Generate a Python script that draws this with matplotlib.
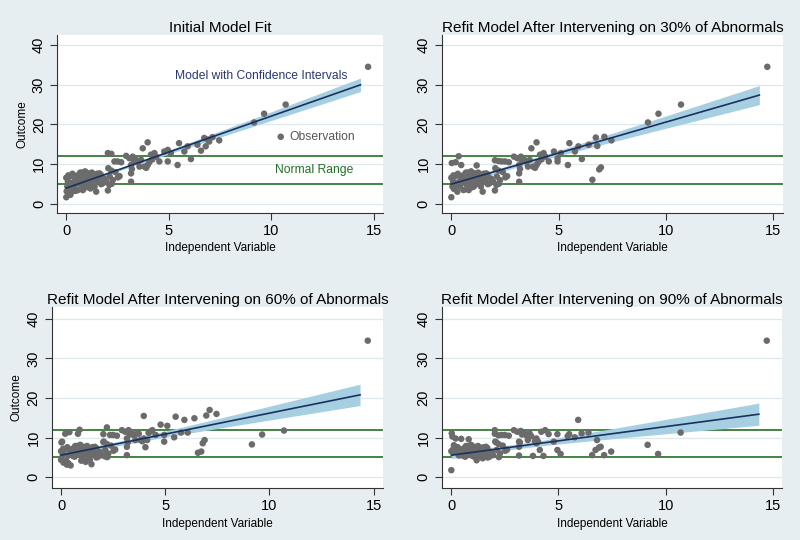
import numpy as np
import matplotlib
matplotlib.use("Agg")
import matplotlib.pyplot as plt

plt.rcParams['font.family'] = ['Liberation Sans', 'DejaVu Sans']

titles = ["Initial Model Fit",
          "Refit Model After Intervening on 30% of Abnormals",
          "Refit Model After Intervening on 60% of Abnormals",
          "Refit Model After Intervening on 90% of Abnormals"]

# ---- data (x shared by all panels; y per panel) ----
x_vals = [
    0.00, 0.02, 0.05, 0.08, 0.00, 0.12, 0.16, 0.20, 0.24, 0.28,
    0.34, 0.40, 0.46, 0.49, 0.52, 0.57, 0.62, 0.65, 0.70, 0.73,
    0.78, 0.81, 0.85, 0.89, 0.92, 0.97, 1.00, 1.05, 1.08, 1.12,
    1.18, 1.22, 1.28, 1.32, 1.38, 1.42, 1.46, 1.50, 1.55, 1.62,
    0.30, 0.60, 0.35, 1.15, 0.10, 0.42, 0.68, 0.75, 0.95, 1.02,
    1.25, 1.35, 0.55, 0.88, 1.60, 1.68,
    1.70, 1.78, 1.85, 1.95, 2.03, 2.05, 2.10, 2.12, 2.03, 2.20,
    2.20, 2.27, 2.22, 2.35, 2.40, 2.50, 2.52, 2.60, 2.68, 2.92,
    3.08, 3.16, 3.16, 3.16, 3.20, 3.24, 3.30, 3.40, 3.50, 3.57,
    3.65, 3.73, 3.81, 3.90, 3.97, 3.97, 4.05, 4.13, 4.20, 4.30,
    4.38, 4.54, 4.78, 4.95, 4.95, 5.10, 5.43, 5.50, 5.76, 5.92,
    6.08, 6.40, 6.57, 6.73, 6.80, 6.89, 6.97, 7.13, 7.46,
    9.16, 9.65, 10.70, 14.72]

y_initial = [
    1.7, 3.2, 4.4, 5.6, 6.6, 3.8, 6.9, 2.3, 4.9, 3.1,
    3.6, 4.4, 3.3, 6.0, 7.1, 3.5, 7.4, 5.2, 6.4, 4.8,
    7.9, 3.5, 6.6, 5.6, 8.2, 4.2, 7.0, 4.4, 7.7, 6.1,
    3.9, 6.9, 5.4, 7.3, 4.4, 6.5, 3.1, 7.6, 5.6, 7.7,
    7.6, 6.2, 5.5, 5.0, 7.2, 6.8, 7.9, 5.9, 6.3, 5.3,
    7.9, 6.0, 5.7, 7.4, 6.4, 7.4,
    5.0, 5.2, 6.4, 5.6, 3.4, 9.0, 4.8, 6.9, 12.8, 12.6,
    8.4, 6.0, 5.1, 10.7, 8.0, 10.7, 6.7, 7.0, 10.5, 12.1,
    11.5, 9.8, 7.7, 5.6, 8.8, 11.9, 10.8, 11.1, 10.6, 9.4,
    11.1, 14.0, 9.4, 9.1, 15.5, 9.8, 10.5, 12.4, 11.2, 12.8,
    11.9, 10.7, 13.2, 13.6, 10.7, 12.8, 9.8, 15.3, 13.2, 14.5,
    11.3, 14.9, 13.4, 16.6, 14.5, 16.2, 15.7, 16.8, 16.0,
    20.5, 22.7, 25.0, 34.5]

y_30 = [
    1.7, 10.3, 4.4, 5.6, 6.6, 3.8, 6.9, 10.5, 4.9, 3.1,
    12.0, 4.4, 9.8, 6.0, 7.1, 3.5, 7.4, 5.2, 6.4, 4.8,
    7.9, 3.5, 6.6, 5.6, 8.2, 4.2, 7.0, 4.4, 7.7, 6.1,
    9.7, 6.9, 5.4, 7.3, 4.4, 6.5, 3.1, 7.6, 5.6, 7.7,
    7.6, 6.2, 5.5, 5.0, 7.2, 6.8, 7.9, 5.9, 6.3, 5.3,
    7.9, 6.0, 5.7, 7.4, 6.4, 7.4,
    5.0, 5.2, 6.4, 5.6, 3.4, 9.0, 4.8, 6.9, 11.0, 10.8,
    8.4, 6.0, 5.1, 10.7, 8.0, 10.7, 6.7, 7.0, 10.5, 11.9,
    11.5, 9.8, 7.7, 5.6, 8.8, 11.9, 10.8, 11.1, 10.6, 9.4,
    11.1, 14.0, 9.4, 9.1, 15.5, 9.8, 10.5, 12.4, 11.2, 12.8,
    11.9, 10.7, 13.2, 11.5, 10.7, 12.8, 9.8, 15.3, 13.2, 14.5,
    11.3, 14.9, 6.1, 16.7, 14.6, 8.7, 9.2, 16.9, 16.0,
    20.5, 22.7, 25.0, 34.5]

y_60 = [
    6.6, 8.8, 9.0, 5.6, 4.4, 3.7, 6.9, 11.0, 4.2, 3.2,
    3.6, 11.4, 3.0, 6.0, 7.1, 5.4, 7.4, 5.2, 6.4, 7.8,
    7.9, 11.0, 6.6, 12.0, 8.2, 4.2, 7.0, 4.4, 7.7, 6.1,
    3.9, 6.9, 5.4, 7.3, 4.4, 6.5, 3.3, 7.6, 5.6, 7.7,
    7.6, 6.2, 5.5, 5.0, 7.2, 6.8, 7.9, 5.9, 6.3, 5.3,
    7.9, 6.0, 5.7, 7.4, 6.4, 7.4,
    5.0, 5.2, 6.4, 5.6, 8.9, 9.0, 5.3, 6.9, 10.9, 12.6,
    8.4, 6.0, 5.1, 10.7, 8.0, 10.7, 6.7, 7.0, 10.5, 11.9,
    11.5, 9.8, 7.7, 5.6, 8.8, 11.9, 10.8, 11.1, 10.6, 9.4,
    11.1, 11.0, 9.4, 9.1, 15.5, 9.8, 7.6, 9.4, 11.2, 11.6,
    11.9, 10.7, 13.3, 9.0, 10.7, 13.0, 10.1, 15.3, 11.3, 14.5,
    11.3, 14.9, 6.2, 6.5, 8.6, 9.4, 15.6, 17.0, 16.0,
    8.3, 10.8, 11.8, 34.5]

y_90 = [
    1.8, 11.1, 10.3, 6.3, 6.6, 8.1, 6.9, 9.8, 6.3, 7.2,
    6.4, 5.6, 9.7, 6.0, 7.1, 5.4, 7.4, 5.2, 6.4, 7.8,
    7.9, 9.6, 6.6, 5.6, 8.2, 7.5, 7.0, 6.2, 7.7, 6.1,
    4.3, 6.9, 5.4, 7.3, 6.5, 6.5, 4.8, 7.6, 5.6, 7.7,
    7.6, 6.2, 5.5, 5.0, 7.2, 6.8, 7.9, 5.9, 6.3, 5.3,
    7.9, 6.0, 5.7, 7.4, 6.4, 7.4,
    5.0, 5.2, 6.4, 5.6, 11.9, 9.0, 8.8, 6.9, 11.0, 10.6,
    8.4, 6.0, 5.1, 10.7, 8.0, 10.7, 6.7, 7.0, 10.5, 11.9,
    11.5, 9.0, 7.7, 5.5, 8.8, 11.7, 10.8, 11.1, 10.6, 9.4,
    11.1, 10.4, 5.4, 9.1, 8.6, 9.8, 9.0, 6.9, 11.5, 5.4,
    11.9, 10.9, 9.0, 6.9, 10.9, 5.9, 10.4, 10.9, 10.1, 14.5,
    11.1, 11.3, 5.6, 6.9, 9.4, 7.5, 7.7, 5.6, 6.5,
    8.2, 5.9, 11.3, 34.5]

panel_y = [y_initial, y_30, y_60, y_90]

# fitted line and confidence band
fit_intercept = [4.0, 5.0, 5.6, 5.6]
fit_slope = [1.81, 1.56, 1.06, 0.72]
ci_halfwidth_end = [1.7, 2.4, 2.7, 2.8]
fit_x_start, fit_x_end = 0.0, 14.35

normal_low, normal_high = 5, 12
x_ticks = [0, 5, 10, 15]
y_ticks = [0, 10, 20, 30, 40]

# ---- styling ----
bg = "#e7eef1"
point_c = "#6b6b6b"
line_c = "#1a3060"
band_c = "#a6d0e2"
green = "#247024"
grid_c = "#dfe8ec"

fig = plt.figure(figsize=(8, 5.4), dpi=100, facecolor=bg)
positions = [
    [0.0713, 0.6056, 0.4075, 0.3296],
    [0.5521, 0.6056, 0.4266, 0.3296],
    [0.0646, 0.0963, 0.4141, 0.3352],
    [0.5521, 0.0963, 0.4259, 0.3352],
]
ylims = [(-2.26, 42.5), (-2.26, 42.5), (-2.7, 43.0), (-2.7, 43.0)]

xv = np.array(x_vals)
xbar = xv.mean()
var = xv.var()

for i, pos in enumerate(positions):
    ax = fig.add_axes(pos)
    ax.set_facecolor("white")
    ax.set_xlim(-0.45, 15.45)
    ax.set_ylim(*ylims[i])
    ax.set_xticks(x_ticks)
    ax.set_yticks(y_ticks)
    ax.set_axisbelow(True)
    ax.yaxis.grid(True, color=grid_c, lw=0.9)
    for s in ["top", "right"]:
        ax.spines[s].set_visible(False)
    for s in ["left", "bottom"]:
        ax.spines[s].set_color("#333333")
        ax.spines[s].set_linewidth(0.8)
    ax.tick_params(axis='both', direction='out', length=5, width=0.8,
                   labelsize=10.5, color="#333333", pad=3)
    ax.tick_params(axis='y', labelrotation=90)
    for lab in ax.get_yticklabels():
        lab.set_va('center')

    xs = np.linspace(fit_x_start, fit_x_end, 200)
    yfit = fit_intercept[i] + fit_slope[i] * xs
    hw = ci_halfwidth_end[i] * np.sqrt((var + (xs - xbar) ** 2) /
                                       (var + (fit_x_end - xbar) ** 2))
    ax.fill_between(xs, yfit - hw, yfit + hw, color=band_c, lw=0, zorder=2.5)

    ys = panel_y[i]
    ax.scatter(x_vals, ys, s=22, color=point_c, edgecolors='none', zorder=3)

    ax.axhline(normal_low, color=green, lw=1.2, zorder=2)
    ax.axhline(normal_high, color=green, lw=1.2, zorder=2)

    ax.plot(xs, yfit, color=line_c, lw=1.2, zorder=4)

    ax.set_title(titles[i], fontsize=11, pad=2.5)
    ax.set_xlabel("Independent Variable", fontsize=8.5)
    ax.xaxis.set_label_coords(0.5, -0.165)
    if i in (0, 2):
        ax.set_ylabel("Outcome", fontsize=8.5)
        ax.yaxis.set_label_coords(-0.088, 0.5)

    if i == 0:
        ax.text(5.3, 32.2, "Model with Confidence Intervals", fontsize=8.7,
                color="#283870", va='center', ha='left')
        ax.scatter([10.46], [16.9], s=22, color=point_c, edgecolors='none', zorder=3)
        ax.text(10.9, 16.9, "Observation", fontsize=8.7, color="#555555",
                va='center', ha='left')
        ax.text(10.2, 8.5, "Normal Range", fontsize=8.7, color=green,
                va='center', ha='left')

fig.savefig("out.png", dpi=100, facecolor=bg)
